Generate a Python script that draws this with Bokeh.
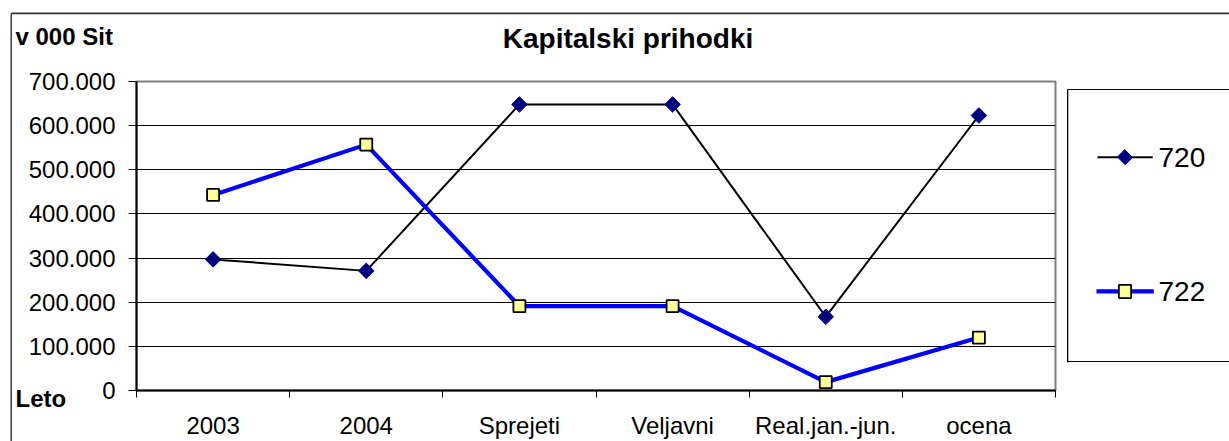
import numpy as np
from bokeh.plotting import figure
from bokeh.models import Range1d, FixedTicker, Label
from bokeh.embed import file_html
from bokeh.resources import INLINE

# ---- data ----
categories = ["2003", "2004", "Sprejeti", "Veljavni", "Real.jan.-jun.", "ocena"]
s720 = [297000, 271000, 648000, 648000, 167000, 623000]
s722 = [443000, 557000, 191000, 191000, 19000, 120000]
y_ticks = [0, 100000, 200000, 300000, 400000, 500000, 600000, 700000]
y_tick_labels = ["0", "100.000", "200.000", "300.000", "400.000", "500.000", "600.000", "700.000"]
title_text = "Kapitalski prihodki"
y_unit_text = "v 000 Sit"
x_name_text = "Leto"
series_names = ["720", "722"]

FONT = "Liberation Sans"
W, H = 1229, 441

xs = [i + 0.5 for i in range(len(categories))]

p = figure(width=W, height=H, output_backend="svg", toolbar_location=None,
           x_range=Range1d(0, len(categories)), y_range=Range1d(0, 700000),
           min_border_left=136, min_border_right=174, min_border_top=81, min_border_bottom=50,
           background_fill_color="white", border_fill_color="white")
p.title.visible = False

# axes
p.xaxis.ticker = FixedTicker(ticks=xs, minor_ticks=list(range(len(categories) + 1)))
p.xaxis.major_label_overrides = {x: c for x, c in zip(xs, categories)}
p.xaxis.major_tick_line_color = None
p.xaxis.major_tick_out = 7
p.xaxis.major_tick_in = 0
p.xaxis.minor_tick_line_color = "black"
p.xaxis.minor_tick_out = 7
p.xaxis.minor_tick_in = 0
p.xaxis.major_label_standoff = 14
p.xaxis.axis_line_color = "black"
p.xaxis.axis_line_width = 2

p.yaxis.ticker = FixedTicker(ticks=y_ticks)
p.yaxis.major_label_overrides = {t: l for t, l in zip(y_ticks, y_tick_labels)}
p.yaxis.major_tick_line_color = "black"
p.yaxis.major_tick_out = 8
p.yaxis.major_tick_in = 0
p.yaxis.minor_tick_line_color = None
p.yaxis.major_label_standoff = 13
p.yaxis.axis_line_color = "black"
p.yaxis.axis_line_width = 2

for ax in (p.xaxis, p.yaxis):
    ax.major_label_text_font = FONT
    ax.major_label_text_font_size = "24px"
    ax.major_label_text_color = "black"

p.xgrid.visible = False
p.ygrid.grid_line_color = "black"
p.ygrid.grid_line_width = 1

p.outline_line_color = "#808080"
p.outline_line_width = 2

# series
p.line(xs, s720, line_color="black", line_width=2)
p.scatter(xs, s720, marker="square", angle=np.pi / 4, size=11,
          fill_color="#000080", line_color="#000080")
p.line(xs, s722, line_color="#0000FF", line_width=4.2)
p.scatter(xs, s722, marker="square", size=12,
          fill_color="#FFFF99", line_color="black", line_width=1.8)


def strip(x, y, right=0, bottom=0, top=0, color="black", size="1px"):
    """thin filled strip drawn as an empty padded label (canvas pixels)"""
    return Label(x=x, y=y, x_units="canvas", y_units="canvas", text=" ",
                 text_font_size=size, text_align="left", text_baseline="top",
                 padding=dict(left=0, top=top, right=right, bottom=bottom),
                 border_line_color=None, background_fill_color=color)


def marker_box(x, y, pad, fill, line, lw, angle=0.0):
    return Label(x=x, y=y, x_units="canvas", y_units="canvas", text=" ",
                 text_font_size="1px", text_align="center", text_baseline="middle",
                 angle=angle, padding=pad, border_line_color=line,
                 border_line_width=lw, background_fill_color=fill)


def text(x, y, s, size, bold=False, align="left"):
    return Label(x=x, y=y, x_units="canvas", y_units="canvas", text=s,
                 text_align=align, text_baseline="middle", text_font=FONT,
                 text_font_size=size, text_font_style="bold" if bold else "normal",
                 text_color="black")


# horizontal strips go to the top panel, vertical ones / narrow items to the side panels
OUTER = "#303030"
p.add_layout(strip(11, 12, right=1230, color=OUTER, size="1.5px"), "above")        # outer top
p.add_layout(strip(10, 13, right=1, bottom=440, color=OUTER, size="1.5px"), "left")  # outer left
p.add_layout(strip(1067, 88.5, right=200), "above")                # legend frame top
p.add_layout(strip(1067, 360.5, right=200), "above")               # legend frame bottom
p.add_layout(strip(1066.5, 89, right=1, bottom=272), "left")       # legend frame left

# legend entries
LEG_Y = [156.7, 291.0]
p.add_layout(strip(1097, LEG_Y[0] - 1, right=55, bottom=1), "above")                       # 720 line
p.add_layout(strip(1096, LEG_Y[1] - 2.2, right=57, top=0, bottom=3, color="#0000FF"), "above")  # 722 line
p.add_layout(marker_box(1124.5, LEG_Y[0], 5, "#000080", "#000080", 1, np.pi / 4), "right")
p.add_layout(marker_box(1124.5, LEG_Y[1], 6, "#FFFF99", "black", 1.8), "left")
p.add_layout(text(1158, LEG_Y[0], series_names[0], "28px"), "right")
p.add_layout(text(1158, LEG_Y[1], series_names[1], "28px"), "right")

# texts
p.add_layout(text(627.5, 38, title_text, "28px", bold=True, align="center"), "above")
p.add_layout(text(15, 36, y_unit_text, "24px", bold=True), "above")
p.add_layout(text(15, 398, x_name_text, "24px", bold=True), "right")

open("out.html", "w").write(file_html(p, INLINE))
